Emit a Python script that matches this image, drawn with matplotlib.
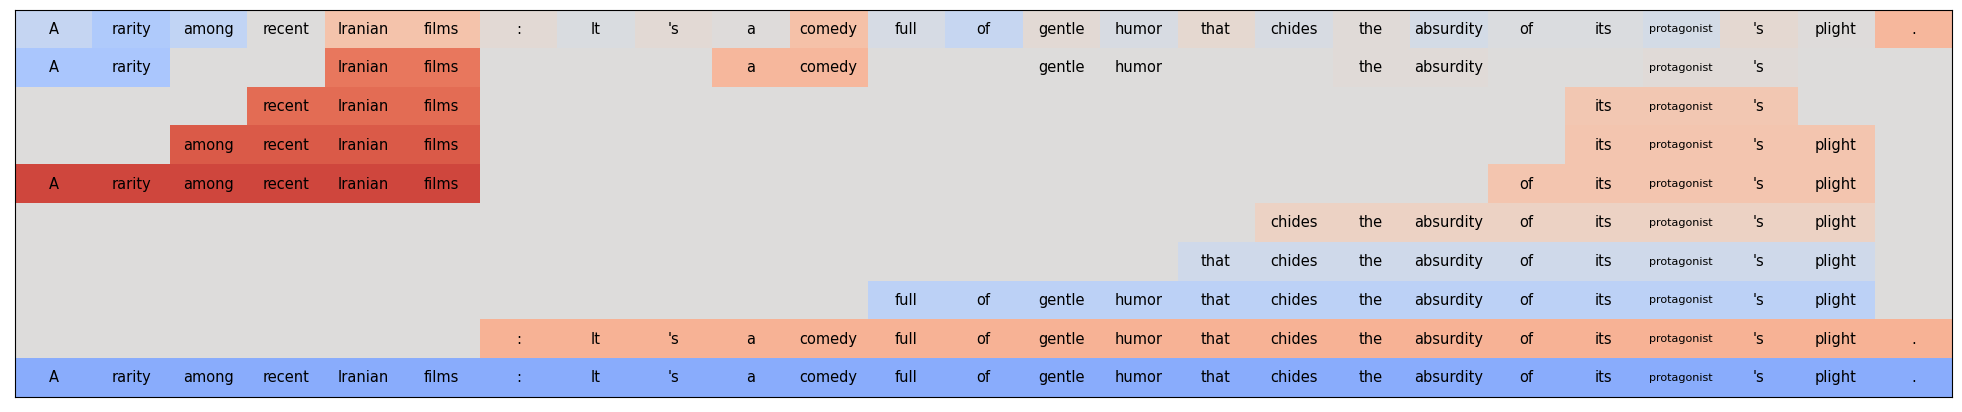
import numpy as np
import matplotlib
matplotlib.use("Agg")
import matplotlib.pyplot as plt

tokens = ["A", "rarity", "among", "recent", "Iranian", "films", ":", "It", "'s", "a",
          "comedy", "full", "of", "gentle", "humor", "that", "chides", "the", "absurdity",
          "of", "its", "protagonist", "'s", "plight", "."]

# top row: score of every single word
word_scores = [-0.17, -0.30, -0.19, 0.0, 0.25, 0.25, 0.04, -0.03, 0.04, 0.01,
               0.27, -0.05, -0.16, 0.04, -0.04, 0.07, -0.04, 0.03, -0.07,
               -0.02, -0.02, -0.07, 0.06, 0.01, 0.33]

# following rows: phrases as (first word, last word + 1, score)
phrase_rows = [
    [(0, 2, -0.33), (4, 6, 0.65), (9, 11, 0.33), (13, 15, 0.0), (17, 19, 0.03), (21, 23, 0.03)],
    [(3, 6, 0.70), (20, 23, 0.22)],
    [(2, 6, 0.77), (20, 24, 0.24)],
    [(0, 6, 0.84), (19, 24, 0.24)],
    [(16, 24, 0.13)],
    [(15, 24, -0.10)],
    [(11, 24, -0.22)],
    [(6, 25, 0.36)],
    [(0, 25, -0.52)],
]

n_rows = len(phrase_rows) + 1
n_cols = len(tokens)
grid = np.zeros((n_rows, n_cols))
shown = np.zeros((n_rows, n_cols), dtype=bool)
grid[0] = word_scores
shown[0] = True
for r, spans in enumerate(phrase_rows, start=1):
    for a, b, s in spans:
        grid[r, a:b] = s
        shown[r, a:b] = True

fig = plt.figure(figsize=(19.62, 4.12), dpi=100)
ax = fig.add_axes([0.0076, 0.036, 0.9874, 0.94])
ax.imshow(grid, cmap="coolwarm", vmin=-1, vmax=1, aspect="auto", interpolation="nearest")

for r in range(n_rows):
    for c in range(n_cols):
        if shown[r, c]:
            w = tokens[c]
            ax.text(c, r, w, ha="center", va="center", color="black",
                    fontsize=8 if len(w) > 10 else 10.5)

ax.set_xticks([])
ax.set_yticks([])
fig.savefig("out.png", dpi=100)
